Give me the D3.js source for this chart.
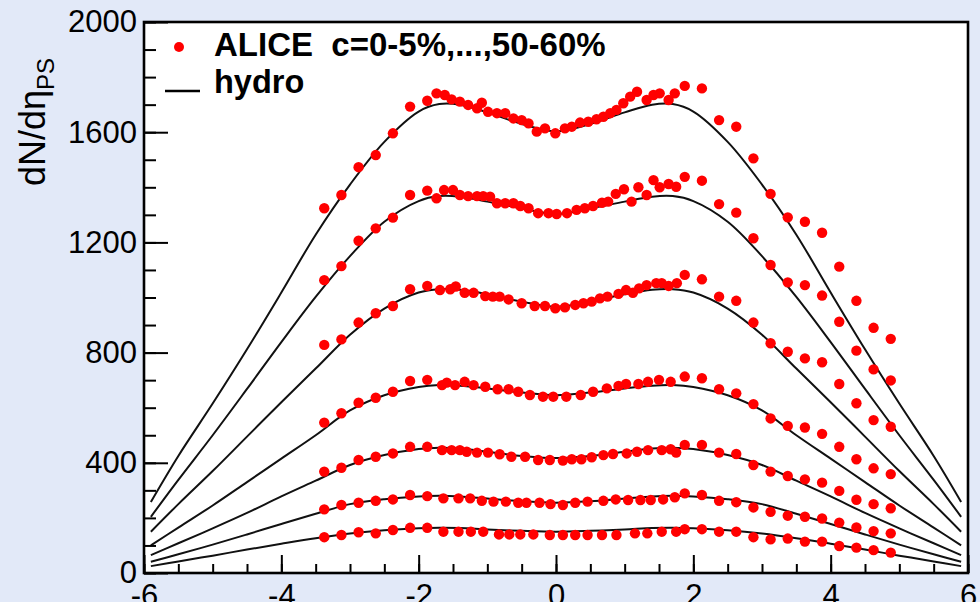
<!DOCTYPE html>
<html>
<head>
<meta charset="utf-8">
<script src="https://cdn.jsdelivr.net/npm/d3@7"></script>
<style>
  html, body { margin: 0; padding: 0; background: #e2e9f8; }
  svg { display: block; }
  text { font-family: "Liberation Sans", Arial, Helvetica, sans-serif; }
</style>
</head>
<body>
<svg id="chart" width="980" height="602"></svg>
<script>
// Pseudorapidity bins of the forward detector (both sides)
const etaFmdLeft = [-3.375, -3.125, -2.875, -2.625, -2.375, -2.125, -1.875];
const etaFmdRight = [1.875, 2.125, 2.375, 2.625, 2.875, 3.125, 3.375, 3.625, 3.875, 4.125, 4.375, 4.625, 4.875];

// Central-barrel eta points for each centrality class
const etaSpd0005 = [-1.74,-1.62,-1.52,-1.40,-1.28,-1.15,-1.08,-0.99,-0.86,-0.74,-0.62,-0.50,-0.40,-0.28,-0.16,-0.01,0.13,0.23,0.35,0.47,0.59,0.69,0.79,0.88,0.98,1.08,1.18,1.32,1.42,1.51,1.64,1.73];
const etaSpd0510 = [-1.74,-1.63,-1.50,-1.40,-1.28,-1.15,-1.06,-0.96,-0.86,-0.74,-0.62,-0.52,-0.40,-0.26,-0.11,0.01,0.16,0.30,0.42,0.54,0.67,0.76,0.87,0.99,1.10,1.20,1.32,1.42,1.51,1.64,1.75];
const etaSpd1020 = [-1.69,-1.54,-1.46,-1.33,-1.20,-1.03,-0.92,-0.82,-0.69,-0.50,-0.31,-0.16,-0.01,0.13,0.28,0.40,0.52,0.64,0.75,0.91,1.02,1.12,1.21,1.32,1.46,1.54,1.64,1.76];
const etaSpd2030 = [-1.66,-1.59,-1.47,-1.33,-1.20,-1.03,-0.85,-0.69,-0.55,-0.38,-0.19,-0.04,0.15,0.36,0.54,0.74,0.91,1.02,1.20,1.34,1.50,1.67];
const etaSpd3040 = [-1.66,-1.52,-1.40,-1.30,-1.15,-0.99,-0.82,-0.65,-0.45,-0.26,-0.09,0.10,0.23,0.37,0.52,0.69,0.83,1.03,1.18,1.34,1.54,1.67,1.75];
const etaSpd4050 = [-1.64,-1.42,-1.25,-1.08,-0.91,-0.73,-0.55,-0.43,-0.24,-0.08,0.10,0.28,0.46,0.69,0.87,1.05,1.23,1.38,1.56,1.73];
const etaSpd5060 = [-1.64,-1.42,-1.24,-1.06,-0.83,-0.68,-0.52,-0.33,-0.09,0.10,0.28,0.46,0.67,0.88,1.15,1.33,1.54,1.75];

// ALICE dN/deta: forward-left, central, forward-right
const alice0005 = [1324,1372,1473,1517,1596,1693,1714,
  1741,1735,1719,1711,1699,1687,1707,1674,1669,1669,1650,1644,1632,1602,1614,1596,1614,1620,1635,1638,1647,1656,1669,1681,1705,1729,1747,1717,1735,1741,1717,1741,
  1768,1759,1644,1620,1505,1376,1291,1275,1235,1112,988,890,850];
const alice0510 = [1063,1114,1206,1251,1290,1372,1388,
  1360,1390,1390,1372,1368,1368,1368,1366,1342,1342,1342,1332,1324,1306,1306,1303,1306,1318,1324,1332,1344,1348,1376,1393,1348,1400,1372,1426,1400,1412,1402,
  1438,1424,1339,1308,1215,1118,1055,1045,1007,912,807,739,699];
const alice1020 = [828,848,909,943,969,1030,1042,
  1027,1030,1040,1017,1017,1005,1003,1003,993,979,969,969,961,964,973,979,985,997,1003,1013,1027,1017,1033,1045,1052,1052,1042,1052,
  1082,1066,1003,988,909,834,803,779,765,686,616,555,531];
const alice2030 = [546,580,618,636,658,697,701,
  682,691,682,694,682,676,667,667,658,646,640,640,640,646,658,670,679,686,686,694,701,694,
  713,707,667,652,613,561,534,528,505,458,413,380,359];
const alice3040 = [368,382,410,422,434,458,458,
  446,446,446,440,437,437,431,422,422,410,410,408,413,413,420,428,432,434,440,446,446,449,437,
  465,465,437,432,392,368,352,340,328,298,266,250,235];
const alice4050 = [231,247,255,262,267,283,279,
  271,271,271,262,259,259,255,255,255,250,247,255,259,262,267,265,265,265,267,275,
  289,283,262,257,238,222,208,204,198,183,165,152,144];
const alice5060 = [130,138,148,144,156,164,164,
  150,150,150,150,140,140,140,140,138,138,138,138,138,138,144,144,150,150,
  159,159,150,150,130,122,125,114,114,98,92,83,74];

// Hydrodynamic model curves
const etaHydro = [-5.9,-5.5,-5,-4.5,-4,-3.5,-3,-2.5,-2,-1.7,-1.4,-1,-0.5,0,0.5,1,1.4,1.7,2,2.5,3,3.5,4,4.5,5,5.5,5.9];
const hydro0005 = [258,425,615,812,1018,1228,1410,1565,1675,1702,1700,1672,1630,1603,1630,1672,1700,1702,1675,1565,1410,1228,1018,812,615,425,258];
const hydro0510 = [204,338,500,668,838,1002,1150,1275,1350,1368,1366,1348,1323,1303,1323,1348,1366,1368,1350,1275,1150,1002,838,668,500,338,204];
const hydro1020 = [150,250,370,495,620,742,865,960,1018,1030,1028,1012,985,966,985,1012,1028,1030,1018,960,865,742,620,495,370,250,150];
const hydro2030 = [100,165,245,330,415,500,590,645,675,682,680,670,655,645,655,670,680,682,675,645,590,500,415,330,245,165,100];
const hydro3040 = [65,108,162,218,278,335,392,428,450,455,452,440,425,417,425,440,452,455,450,428,392,335,278,218,162,108,65];
const hydro4050 = [41,68,103,140,178,215,250,268,278,280,278,270,260,255,260,270,278,280,278,268,250,215,178,140,103,68,41];
const hydro5060 = [25,42,63,85,106,126,143,155,162,164,163,158,153,150,153,158,163,164,162,155,143,126,106,85,63,42,25];

const xMajorTicks = [-6, -4, -2, 0, 2, 4, 6];
const yMajorTicks = [0, 400, 800, 1200, 1600, 2000];

const centralities = [
  { spd: etaSpd0005, data: alice0005, model: hydro0005 },
  { spd: etaSpd0510, data: alice0510, model: hydro0510 },
  { spd: etaSpd1020, data: alice1020, model: hydro1020 },
  { spd: etaSpd2030, data: alice2030, model: hydro2030 },
  { spd: etaSpd3040, data: alice3040, model: hydro3040 },
  { spd: etaSpd4050, data: alice4050, model: hydro4050 },
  { spd: etaSpd5060, data: alice5060, model: hydro5060 }
];

const svg = d3.select("#chart");
const W = 980, H = 602;
const plot = { left: 144, right: 968, top: 22, bottom: 573 };

svg.append("rect").attr("width", W).attr("height", H).attr("fill", "#e2e9f8");
svg.append("rect")
  .attr("x", plot.left).attr("y", plot.top)
  .attr("width", plot.right - plot.left).attr("height", plot.bottom - plot.top)
  .attr("fill", "#ffffff");

const x = d3.scaleLinear().domain([-6, 6]).range([plot.left, plot.right]);
const y = d3.scaleLinear().domain([0, 2000]).range([plot.bottom, plot.top]);

svg.append("clipPath").attr("id", "plotClip")
  .append("rect")
  .attr("x", plot.left).attr("y", plot.top)
  .attr("width", plot.right - plot.left).attr("height", plot.bottom - plot.top);

// model curves
const line = d3.line()
  .x(d => x(d[0]))
  .y(d => y(d[1]))
  .curve(d3.curveCatmullRom.alpha(0.5));

const curves = svg.append("g").attr("clip-path", "url(#plotClip)");
centralities.forEach(c => {
  curves.append("path")
    .datum(etaHydro.map((e, i) => [e, c.model[i]]))
    .attr("fill", "none")
    .attr("stroke", "#111")
    .attr("stroke-width", 2)
    .attr("d", line);
});

// data points
const dots = svg.append("g").attr("clip-path", "url(#plotClip)");
centralities.forEach(c => {
  const etas = etaFmdLeft.concat(c.spd, etaFmdRight);
  dots.selectAll(null)
    .data(etas.map((e, i) => [e, c.data[i]]))
    .enter().append("circle")
    .attr("cx", d => x(d[0]))
    .attr("cy", d => y(d[1]))
    .attr("r", 5.2)
    .attr("fill", "#ff0000");
});

// axes: ticks drawn inward, plain hyphen for negative labels
const fontSize = 31;
const plainLabel = d => String(d);
const xAxisMajor = d3.axisBottom(x).tickValues(xMajorTicks).tickSize(-18).tickPadding(11).tickFormat(plainLabel);
const xAxisMinor = d3.axisBottom(x).tickValues(d3.range(-6, 6.01, 0.5)).tickSize(-9).tickFormat("");
const yAxisMajor = d3.axisLeft(y).tickValues(yMajorTicks).tickSize(-24).tickPadding(7).tickFormat(plainLabel);
const yAxisMinor = d3.axisLeft(y).tickValues(d3.range(0, 2001, 100)).tickSize(-12).tickFormat("");

function styleAxis(g) {
  g.select(".domain").remove();
  g.selectAll("line").attr("stroke", "#000").attr("stroke-width", 2);
  g.selectAll("text").attr("fill", "#000").style("font-size", fontSize + "px")
    .style("font-family", '"Liberation Sans", Arial, sans-serif');
}

svg.append("g").attr("transform", `translate(0,${plot.bottom})`).call(xAxisMinor).call(styleAxis);
svg.append("g").attr("transform", `translate(0,${plot.bottom})`).call(xAxisMajor).call(styleAxis);
svg.append("g").attr("transform", `translate(${plot.left},0)`).call(yAxisMinor).call(styleAxis);
svg.append("g").attr("transform", `translate(${plot.left},0)`).call(yAxisMajor).call(styleAxis);

// frame
svg.append("rect")
  .attr("x", plot.left).attr("y", plot.top)
  .attr("width", plot.right - plot.left).attr("height", plot.bottom - plot.top)
  .attr("fill", "none").attr("stroke", "#000").attr("stroke-width", 2.6);

// y-axis title
const yTitle = svg.append("text")
  .attr("transform", "translate(45,186) rotate(-90)")
  .attr("fill", "#000")
  .style("font-size", "36px");
yTitle.append("tspan").text("dN/dη");
yTitle.append("tspan").attr("dy", 9).style("font-size", "24px").text("PS");

// legend
svg.append("circle").attr("cx", 179).attr("cy", 47).attr("r", 5).attr("fill", "#ff0000");
svg.append("text").attr("x", 214).attr("y", 56)
  .style("font-size", "33px").style("font-weight", "bold").style("white-space", "pre")
  .attr("fill", "#000")
  .text("ALICE  c=0-5%,...,50-60%");
svg.append("line").attr("x1", 165).attr("x2", 200).attr("y1", 91).attr("y2", 91)
  .attr("stroke", "#000").attr("stroke-width", 2.5);
svg.append("text").attr("x", 214).attr("y", 93)
  .style("font-size", "32.5px").style("font-weight", "bold")
  .attr("fill", "#000")
  .text("hydro");
</script>
</body>
</html>
